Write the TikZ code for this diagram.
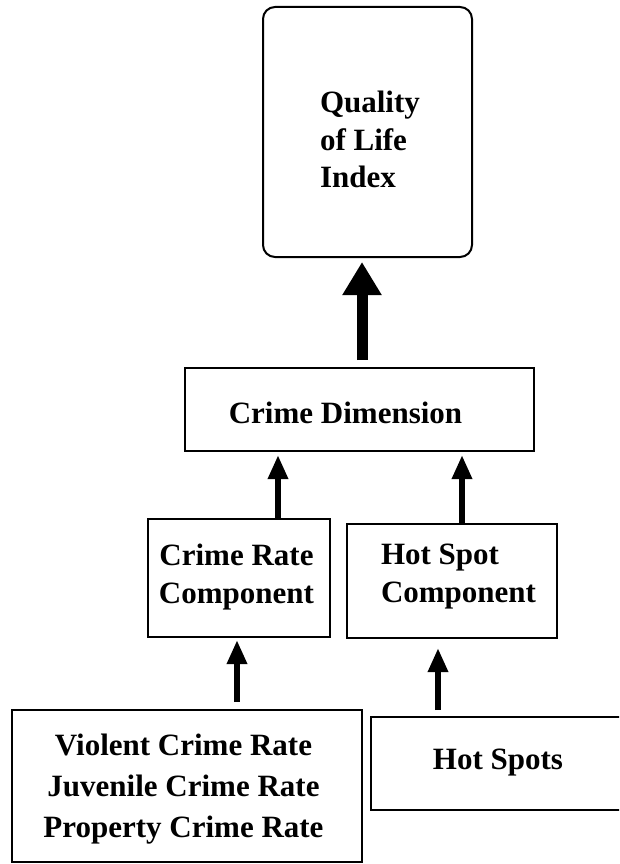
\documentclass[tikz,border=0pt]{standalone}
\usepackage{fontspec}
\setmainfont{Liberation Serif}
\usetikzlibrary{arrows.meta}

\tikzset{
  frame/.style={draw=black, line width=2pt, inner sep=0pt, outer sep=0pt},
  roundframe/.style={frame, rounded corners=12pt},
  label text/.style={inner sep=0pt, outer sep=0pt,
    font=\fontsize{31}{38}\selectfont\bfseries},
  bigarrow/.style={line width=11pt, -{Triangle[width=37pt,length=33pt]}},
  smallarrow/.style={line width=6pt, -{Triangle[width=19pt,length=24pt]}}
}

\begin{document}
\begin{tikzpicture}[x=1pt, y=-1pt]
  \useasboundingbox (0,0) rectangle (619,864);
  \clip (0,0) rectangle (619,864);
  \fill[white] (0,0) rectangle (619,864);

  % frames
  \node[roundframe, minimum width=209pt, minimum height=250pt] (qol) at (367.5,132) {};
  \node[frame, minimum width=349pt, minimum height=83pt] (cd) at (359.5,409.5) {};
  \node[frame, minimum width=182pt, minimum height=118pt] (crc) at (239,578) {};
  \node[frame, minimum width=210pt, minimum height=114pt] (hsc) at (452,581) {};
  \node[frame, minimum width=350pt, minimum height=152pt] (rates) at (187,786) {};
  \node[frame, minimum width=259pt, minimum height=93pt] (hs) at (500.5,763.5) {};

  % texts
  \node[label text, anchor=north west, align=left,
        font=\fontsize{31}{37.5}\selectfont\bfseries] (qoltxt) at (320,91)
    {Quality\\of Life\\Index};
  \node[label text, anchor=north] (cdtxt) at (345.5,402) {Crime Dimension};
  \node[label text, anchor=north, align=center] (crctxt) at (236.5,544)
    {Crime Rate\\Component};
  \node[label text, anchor=north west, align=left] (hsctxt) at (381,544)
    {Hot Spot\\Component};
  \node[label text, anchor=north, align=center,
        font=\fontsize{31}{41}\selectfont\bfseries] (ratestxt) at (183.5,734)
    {Violent Crime Rate\\Juvenile Crime Rate\\Property Crime Rate};
  \node[label text, anchor=north] (hstxt) at (498,749) {Hot Spots};

  % arrow columns
  \coordinate (c1) at (362,0);
  \coordinate (c2) at (278,0);
  \coordinate (c3) at (462,0);
  \coordinate (c4) at (237,0);
  \coordinate (c5) at (438,0);

  % connectors
  \draw[bigarrow, shorten <=8pt, shorten >=5pt] (cd.north -| c1) -- (qol.south -| c1);
  \draw[smallarrow, shorten >=4pt] (crc.north -| c2) -- (cd.south -| c2);
  \draw[smallarrow, shorten >=4pt] (hsc.north -| c3) -- (cd.south -| c3);
  \draw[smallarrow, shorten <=8pt, shorten >=3pt] (rates.north -| c4) -- (crc.south -| c4);
  \draw[smallarrow, shorten <=7pt, shorten >=10pt] (hs.north -| c5) -- (hsc.south -| c5);
\end{tikzpicture}
\end{document}
